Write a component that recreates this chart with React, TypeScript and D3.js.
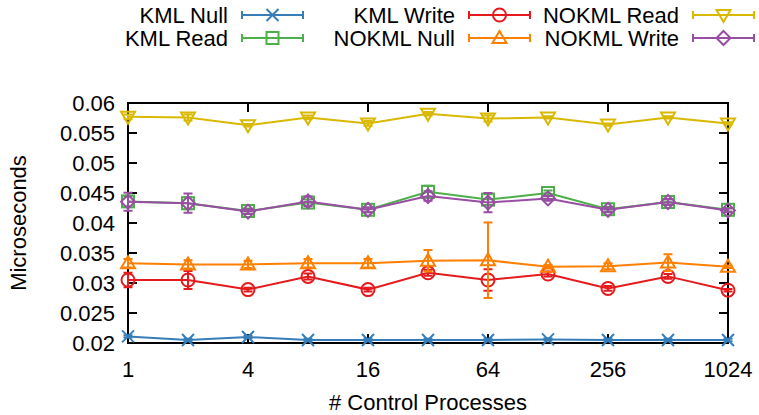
import React from "react";
import * as d3 from "d3";

const xValues = [1, 2, 4, 8, 16, 32, 64, 128, 256, 512, 1024];
const xTicks = [1, 4, 16, 64, 256, 1024];
const yTicks = [0.02, 0.025, 0.03, 0.035, 0.04, 0.045, 0.05, 0.055, 0.06];

const kmlNull = [0.0211, 0.0205, 0.021, 0.0205, 0.0205, 0.0205, 0.0205, 0.0206, 0.0205, 0.0205, 0.0205];
const kmlNullErr = [0.0002, 0.0002, 0.0002, 0.0002, 0.0002, 0.0002, 0.0002, 0.0002, 0.0002, 0.0002, 0.0002];
const kmlRead = [0.0436, 0.0433, 0.042, 0.0434, 0.0422, 0.0452, 0.0439, 0.045, 0.0423, 0.0435, 0.0422];
const kmlReadErr = [0.0008, 0.001, 0.0004, 0.0005, 0.0004, 0.001, 0.0009, 0.0004, 0.0004, 0.0004, 0.0003];
const kmlWrite = [0.0305, 0.0305, 0.0289, 0.0311, 0.0289, 0.0317, 0.0305, 0.0315, 0.0291, 0.0311, 0.0288];
const kmlWriteErr = [0.0012, 0.0015, 0.0003, 0.0005, 0.0003, 0.0005, 0.0018, 0.0004, 0.0004, 0.0004, 0.0002];
const nokmlNull = [0.0333, 0.0331, 0.0331, 0.0333, 0.0333, 0.0337, 0.0338, 0.0327, 0.0328, 0.0334, 0.0327];
const nokmlNullErr = [0.0007, 0.0007, 0.0006, 0.0007, 0.0007, 0.0018, 0.0063, 0.0003, 0.0005, 0.0014, 0.0002];
const nokmlRead = [0.0577, 0.0576, 0.0563, 0.0576, 0.0566, 0.0582, 0.0574, 0.0576, 0.0564, 0.0576, 0.0566];
const nokmlReadErr = [0.0004, 0.0005, 0.0002, 0.0003, 0.0004, 0.0003, 0.0005, 0.0002, 0.0002, 0.0002, 0.0002];
const nokmlWrite = [0.04355, 0.0433, 0.0419, 0.0436, 0.0422, 0.0445, 0.0434, 0.0441, 0.0422, 0.0435, 0.0421];
const nokmlWriteErr = [0.0015, 0.0016, 0.0004, 0.0008, 0.0004, 0.0008, 0.0016, 0.0004, 0.0004, 0.0005, 0.0003];

type Marker = "x" | "square" | "circle" | "tri" | "tridown" | "diamond";
const series: { name: string; values: number[]; errs: number[]; color: string; marker: Marker }[] = [
  { name: "KML Null", values: kmlNull, errs: kmlNullErr, color: "#377eb8", marker: "x" },
  { name: "KML Read", values: kmlRead, errs: kmlReadErr, color: "#4daf4a", marker: "square" },
  { name: "KML Write", values: kmlWrite, errs: kmlWriteErr, color: "#e41a1c", marker: "circle" },
  { name: "NOKML Null", values: nokmlNull, errs: nokmlNullErr, color: "#ff7f00", marker: "tri" },
  { name: "NOKML Read", values: nokmlRead, errs: nokmlReadErr, color: "#d9b800", marker: "tridown" },
  { name: "NOKML Write", values: nokmlWrite, errs: nokmlWriteErr, color: "#984ea3", marker: "diamond" },
];

const W = 759, H = 415;
const L = 128, R = 728, T = 103, B = 343;
const FONT = "'Liberation Sans', Arial, Helvetica, sans-serif";
const FS = 22;

function MarkerShape({ type, x, y, color }: { type: Marker; x: number; y: number; color: string }) {
  const sw = 2;
  const common = { fill: "none", stroke: color, strokeWidth: sw };
  switch (type) {
    case "x":
      return (
        <path d={`M${x - 6},${y - 6}L${x + 6},${y + 6}M${x - 6},${y + 6}L${x + 6},${y - 6}`} {...common} />
      );
    case "square":
      return <rect x={x - 6} y={y - 6} width={12} height={12} {...common} />;
    case "circle":
      return <circle cx={x} cy={y} r={6.5} {...common} />;
    case "tri":
      return <path d={`M${x},${y - 7}L${x + 7},${y + 5}L${x - 7},${y + 5}Z`} {...common} />;
    case "tridown":
      return <path d={`M${x},${y + 7}L${x + 7},${y - 5}L${x - 7},${y - 5}Z`} {...common} />;
    case "diamond":
      return <path d={`M${x},${y - 7}L${x + 7},${y}L${x},${y + 7}L${x - 7},${y}Z`} {...common} />;
  }
}

export default function App() {
  const x = d3.scaleLog().base(2).domain([1, 1024]).range([L, R]);
  const y = d3.scaleLinear().domain([0.02, 0.06]).range([B, T]);
  const line = d3
    .line<number>()
    .x((_, i) => x(xValues[i]))
    .y((d) => y(d));

  const legendPos = [
    { tx: 228, row: 0 },
    { tx: 228, row: 1 },
    { tx: 455, row: 0 },
    { tx: 455, row: 1 },
    { tx: 679, row: 0 },
    { tx: 679, row: 1 },
  ];
  const rowY = [15, 38];

  return (
    <svg width={W} height={H} style={{ position: "absolute", left: 0, top: 0, background: "#fff" }} fontFamily={FONT}>
      <rect x={0} y={0} width={W} height={H} fill="#fff" />
      {/* legend */}
      {series.map((s, i) => {
        const p = legendPos[i];
        const cy = rowY[p.row];
        const x0 = p.tx + 14, x1 = p.tx + 75;
        const mx = (x0 + x1) / 2;
        return (
          <g key={"leg" + i}>
            <text x={p.tx} y={cy} dy="0.35em" textAnchor="end" fontSize={FS} fill="#000">
              {s.name}
            </text>
            <path d={`M${x0},${cy}L${x1},${cy}M${x0},${cy - 4}L${x0},${cy + 4}M${x1},${cy - 4}L${x1},${cy + 4}`} stroke={s.color} strokeWidth={2} fill="none" />
            <MarkerShape type={s.marker} x={mx} y={cy} color={s.color} />
          </g>
        );
      })}
      {/* ticks */}
      {yTicks.map((t) => (
        <g key={"y" + t}>
          <line x1={L} x2={L + 9} y1={y(t)} y2={y(t)} stroke="#000" strokeWidth={2} />
          <line x1={R} x2={R - 9} y1={y(t)} y2={y(t)} stroke="#000" strokeWidth={2} />
          <text x={L - 13} y={y(t)} dy="0.35em" textAnchor="end" fontSize={FS} fill="#000">
            {String(+t.toFixed(3))}
          </text>
        </g>
      ))}
      {xTicks.map((t) => (
        <g key={"x" + t}>
          <line x1={x(t)} x2={x(t)} y1={B} y2={B - 9} stroke="#000" strokeWidth={2} />
          <line x1={x(t)} x2={x(t)} y1={T} y2={T + 9} stroke="#000" strokeWidth={2} />
          <text x={x(t)} y={369} dy="0.35em" textAnchor="middle" fontSize={FS} fill="#000">
            {t}
          </text>
        </g>
      ))}
      <rect x={L} y={T} width={R - L} height={B - T} fill="none" stroke="#000" strokeWidth={2} />
      {/* series */}
      {series.map((s, si) => (
        <g key={"s" + si}>
          <path d={line(s.values) || ""} fill="none" stroke={s.color} strokeWidth={2} />
          {s.values.map((v, i) => {
            const cx = x(xValues[i]);
            const y1 = y(v - s.errs[i]);
            const y2 = y(v + s.errs[i]);
            return (
              <g key={i}>
                <path
                  d={`M${cx},${y1}L${cx},${y2}M${cx - 4.5},${y1}L${cx + 4.5},${y1}M${cx - 4.5},${y2}L${cx + 4.5},${y2}`}
                  stroke={s.color}
                  strokeWidth={2}
                  fill="none"
                />
                <MarkerShape type={s.marker} x={cx} y={y(v)} color={s.color} />
              </g>
            );
          })}
        </g>
      ))}
      {/* axis titles */}
      <text x={428} y={402} dy="0.35em" textAnchor="middle" fontSize={FS} fill="#000">
        # Control Processes
      </text>
      <text transform={`translate(18,223) rotate(-90)`} dy="0.35em" textAnchor="middle" fontSize={FS} fill="#000">
        Microseconds
      </text>
    </svg>
  );
}
